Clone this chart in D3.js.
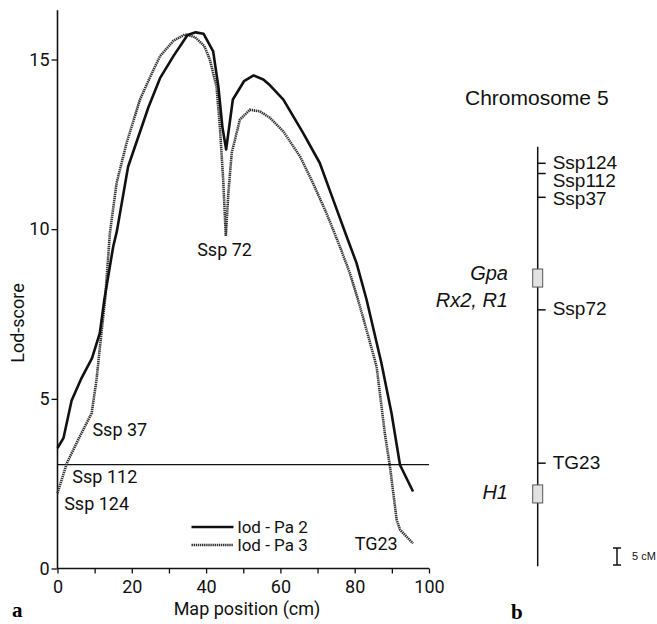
<!DOCTYPE html>
<html>
<head>
<meta charset="utf-8">
<script src="https://cdn.jsdelivr.net/npm/d3@7"></script>
<style>
  html, body { margin: 0; padding: 0; background: #fff; }
  svg { display: block; }
  .lbl { font-family: Roboto, "DejaVu Sans", sans-serif; font-size: 18px; fill: #111; }
  .arial { font-family: "Liberation Sans", Arial, sans-serif; fill: #111; }
</style>
</head>
<body>
<div id="chart"></div>
<script>
// Lod-score curves (map position in cM, lod-score)
const pa2Pos = [0, 1.6, 3.8, 6.5, 9.3, 11.4, 12.6, 15.0, 16.0, 19.0, 24.5, 27.6, 31.2, 35.0, 37.2, 39.3, 41.9, 43.3, 44.4, 45.4, 47.2, 50.2, 52.8, 55.4, 57.2, 60.8, 66.1, 70.6, 74.2, 77.8, 80.5, 83.2, 87.2, 89.9, 92.2, 95.7];
const pa2Lod = [3.55, 3.84, 4.95, 5.62, 6.2, 6.94, 7.92, 9.49, 9.95, 11.84, 13.6, 14.45, 15.1, 15.72, 15.8, 15.76, 15.24, 14.2, 13.0, 12.35, 13.82, 14.36, 14.53, 14.41, 14.24, 13.82, 12.84, 11.95, 10.87, 9.79, 9.0, 7.92, 6.05, 4.58, 3.05, 2.27];

const pa3Pos = [0, 2.5, 6.0, 9.2, 10.5, 11.2, 12.8, 14.1, 15.9, 18.6, 22.2, 25.0, 27.6, 31.2, 34.3, 37.0, 39.5, 41.0, 42.8, 43.7, 44.6, 45.3, 46.0, 46.9, 49.1, 51.8, 54.5, 57.2, 60.8, 65.3, 68.8, 72.4, 76.0, 78.7, 80.9, 82.5, 85.9, 88.1, 89.5, 91.3, 92.2, 95.7];
const pa3Lod = [2.22, 3.1, 3.89, 4.58, 5.56, 6.3, 7.92, 9.88, 11.36, 12.54, 13.82, 14.5, 15.1, 15.55, 15.74, 15.66, 15.4, 15.0, 14.2, 13.03, 11.46, 9.8, 11.07, 12.25, 13.23, 13.52, 13.47, 13.28, 12.88, 12.14, 11.35, 10.47, 9.49, 8.7, 7.92, 7.3, 5.95, 3.99, 3.0, 1.43, 1.14, 0.74];

const threshold = 3.06;
const xTicks = [0, 10, 20, 30, 40, 50, 60, 70, 80, 90, 100];
const xTickLabels = [0, 20, 40, 60, 80, 100];
const yTicks = [0, 5, 10, 15];

const seriesNames = ["lod - Pa 2", "lod - Pa 3"];

// Marker labels on the curve plot (name, map position of label start, lod of label)
const curveMarkers = ["Ssp 124", "Ssp 112", "Ssp 37", "Ssp 72", "TG23"];
const curveMarkerPos = [1.8, 4.0, 9.4, 37.6, 80.0];
const curveMarkerLod = [1.9, 2.7, 4.1, 9.4, 0.73];

// Chromosome 5 map (cM from Ssp124)
const chromTop = -4.9;
const chromBottom = 118.5;
const chromMarkers = ["Ssp124", "Ssp112", "Ssp37", "Ssp72", "TG23"];
const chromMarkerCM = [0, 3, 10, 43.1, 88.2];
const geneNames = [["Gpa", "Rx2, R1"], ["H1"]];
const geneStart = [31.1, 94.6];
const geneEnd = [36.4, 99.9];

const W = 657, H = 624;
const svg = d3.select("#chart").append("svg").attr("width", W).attr("height", H);

// ---- panel a ----
const x = d3.scaleLinear().domain([0, 100]).range([57.5, 429]);
const y = d3.scaleLinear().domain([0, 15]).range([568.5, 59.5]);
const yTop = 16.45;

// axes
svg.append("line")
  .attr("x1", x(0)).attr("x2", x(0)).attr("y1", y(0)).attr("y2", y(yTop))
  .attr("stroke", "#111").attr("stroke-width", 1.6);
svg.append("line")
  .attr("x1", x(0)).attr("x2", x(100)).attr("y1", y(0)).attr("y2", y(0))
  .attr("stroke", "#111").attr("stroke-width", 1.6);

const xAxis = svg.append("g")
  .attr("transform", `translate(0,${y(0)})`)
  .call(d3.axisBottom(x).tickValues(xTicks).tickSize(5).tickPadding(7)
    .tickFormat(d => xTickLabels.includes(d) ? d : ""));
xAxis.select(".domain").remove();
xAxis.selectAll("line").attr("stroke", "#111").attr("stroke-width", 1.3);
xAxis.selectAll("text").attr("class", "lbl").attr("font-size", null).attr("font-family", null);

const yAxis = svg.append("g")
  .attr("transform", `translate(${x(0)},0)`)
  .call(d3.axisLeft(y).tickValues(yTicks).tickSize(6).tickPadding(2));
yAxis.select(".domain").remove();
yAxis.selectAll("line").attr("stroke", "#111").attr("stroke-width", 1.3);
yAxis.selectAll("text").attr("class", "lbl").attr("font-size", null).attr("font-family", null);

// threshold
svg.append("line")
  .attr("x1", x(0)).attr("x2", x(100)).attr("y1", y(threshold)).attr("y2", y(threshold))
  .attr("stroke", "#111").attr("stroke-width", 1.3);

const line = d3.line().x(d => x(d[0])).y(d => y(d[1]));

svg.append("path")
  .datum(d3.zip(pa3Pos, pa3Lod))
  .attr("d", line)
  .attr("fill", "none")
  .attr("stroke", "#333")
  .attr("stroke-width", 2.6)
  .attr("stroke-dasharray", "1.4,0.7");

svg.append("path")
  .datum(d3.zip(pa2Pos, pa2Lod))
  .attr("d", line)
  .attr("fill", "none")
  .attr("stroke", "#111")
  .attr("stroke-width", 2.6)
  .attr("stroke-linejoin", "round");

// marker labels
svg.append("g").selectAll("text")
  .data(curveMarkers)
  .join("text")
  .attr("class", "lbl")
  .attr("x", (d, i) => x(curveMarkerPos[i]))
  .attr("y", (d, i) => y(curveMarkerLod[i]))
  .attr("dy", "0.35em")
  .text(d => d);

// legend
const leg = svg.append("g").attr("transform", "translate(191.5,527)");
leg.append("line").attr("x1", 0).attr("x2", 42).attr("y1", 0).attr("y2", 0)
  .attr("stroke", "#111").attr("stroke-width", 2.6);
leg.append("line").attr("x1", 0).attr("x2", 42).attr("y1", 18).attr("y2", 18)
  .attr("stroke", "#333").attr("stroke-width", 2.6).attr("stroke-dasharray", "1.4,0.7");
leg.selectAll("text.s")
  .data(seriesNames)
  .join("text")
  .attr("class", "lbl")
  .style("font-size", "17px")
  .attr("x", 46)
  .attr("y", (d, i) => i * 18)
  .attr("dy", "0.35em")
  .text(d => d);

// axis titles
svg.append("text").attr("class", "lbl")
  .attr("x", 247).attr("y", 615)
  .attr("text-anchor", "middle")
  .text("Map position (cm)");
svg.append("text").attr("class", "lbl")
  .attr("transform", "translate(24,323) rotate(-90)")
  .attr("text-anchor", "middle")
  .text("Lod-score");

// panel letters
svg.append("text")
  .attr("x", 12).attr("y", 617)
  .attr("font-family", "'Liberation Serif', 'DejaVu Serif', serif")
  .attr("font-weight", "bold").attr("font-size", 21)
  .text("a");
svg.append("text")
  .attr("x", 511).attr("y", 619)
  .attr("font-family", "'Liberation Serif', 'DejaVu Serif', serif")
  .attr("font-weight", "bold").attr("font-size", 21)
  .text("b");

// ---- panel b ----
const cy = d3.scaleLinear().domain([0, 5]).range([163.3, 180.3]);
const cx = 537.7;

svg.append("text").attr("class", "arial")
  .attr("x", 465).attr("y", 105).attr("font-size", 21)
  .text("Chromosome 5");

svg.append("line")
  .attr("x1", cx).attr("x2", cx).attr("y1", cy(chromTop)).attr("y2", cy(chromBottom))
  .attr("stroke", "#111").attr("stroke-width", 1.5);

// marker ticks + labels
let prevY = -Infinity;
chromMarkers.forEach((m, i) => {
  const ty = cy(chromMarkerCM[i]);
  svg.append("line")
    .attr("x1", cx).attr("x2", cx + 8).attr("y1", ty).attr("y2", ty)
    .attr("stroke", "#111").attr("stroke-width", 1.5);
  const ly = Math.max(ty - 1, prevY + 18);
  prevY = ly;
  svg.append("text").attr("class", "arial")
    .attr("x", cx + 15).attr("y", ly).attr("dy", "0.35em")
    .attr("font-size", 19)
    .text(m);
});

// gene boxes
geneStart.forEach((s, i) => {
  svg.append("rect")
    .attr("x", cx - 5).attr("width", 10)
    .attr("y", cy(s)).attr("height", cy(geneEnd[i]) - cy(s))
    .attr("fill", "#e2e2e2").attr("stroke", "#555").attr("stroke-width", 1);
  const mid = (cy(s) + cy(geneEnd[i])) / 2;
  geneNames[i].forEach((g, j) => {
    svg.append("text").attr("class", "arial")
      .attr("x", 508).attr("y", mid - 5 + j * 27 + (geneNames[i].length === 1 ? 3 : 0))
      .attr("dy", "0.35em")
      .attr("text-anchor", "end")
      .attr("font-style", "italic").attr("font-size", 20)
      .text(g);
  });
});

// scale bar 5 cM
const sbx = 617, sb0 = 548, sb1 = sb0 + (cy(5) - cy(0));
svg.append("line").attr("x1", sbx).attr("x2", sbx).attr("y1", sb0).attr("y2", sb1)
  .attr("stroke", "#111").attr("stroke-width", 1.5);
[sb0, sb1].forEach(v => svg.append("line")
  .attr("x1", sbx - 4).attr("x2", sbx + 4).attr("y1", v).attr("y2", v)
  .attr("stroke", "#111").attr("stroke-width", 1.5));
svg.append("text").attr("class", "arial")
  .attr("x", 632).attr("y", (sb0 + sb1) / 2).attr("dy", "0.35em")
  .attr("font-size", 11)
  .text("5 cM");
</script>
</body>
</html>
